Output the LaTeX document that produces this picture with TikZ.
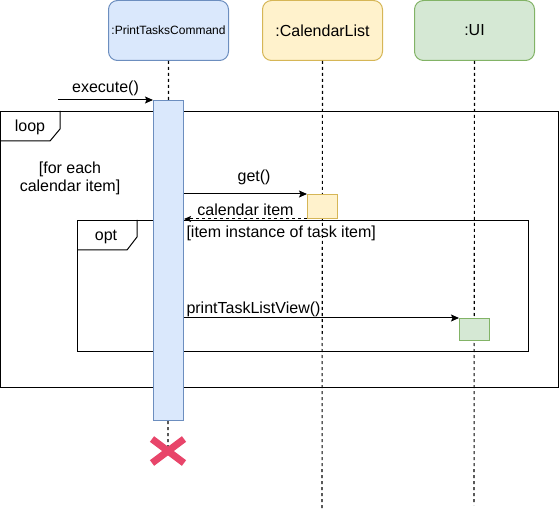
\documentclass[tikz,border=0pt]{standalone}
\usepackage{fontspec}
\setmainfont{Liberation Sans}
\usetikzlibrary{arrows.meta}
\definecolor{bluefill}{HTML}{DAE8FC}
\definecolor{blueline}{HTML}{6C8EBF}
\definecolor{yellowfill}{HTML}{FFF2CC}
\definecolor{yellowline}{HTML}{D6B656}
\definecolor{greenfill}{HTML}{D5E8D4}
\definecolor{greenline}{HTML}{82B366}
\definecolor{destroyred}{HTML}{E8456A}
\begin{document}
\begin{tikzpicture}[x=1pt,y=-1pt,line width=1pt,
    head/.style={draw,rounded corners=9pt,anchor=north west,inner sep=0pt,
      minimum width=120pt,minimum height=60pt,font=\fontsize{16}{19}\selectfont},
    act/.style={draw,anchor=north west,inner sep=0pt,minimum width=30pt},
    life/.style={line width=1.1pt,dash pattern=on 3pt off 3pt},
    frame/.style={draw,anchor=north west,inner sep=0pt},
    txt/.style={font=\fontsize{16}{18}\selectfont,inner sep=0pt},
    msg/.style={-{Stealth[length=8pt,width=7pt,inset=1.5pt]}},
    ret/.style={dash pattern=on 3pt off 3pt,-{Stealth[length=7pt,width=6pt,inset=1.5pt]}},
    destroy/.style={draw=destroyred,line width=7pt}]
  \useasboundingbox (0,0) rectangle (559,510);

  % heads
  \node[head,fill=bluefill,draw=blueline,font=\fontsize{12}{14}\selectfont] (ptc) at (108,0) {:PrintTasksCommand};
  \node[head,fill=yellowfill,draw=yellowline] (cl) at (262,0) {:CalendarList};
  \node[head,fill=greenfill,draw=greenline] (ui) at (414,0) {:UI};

  % lifelines
  \coordinate (end) at (168,451);
  \coordinate (clend) at (322,508);
  \coordinate (uiend) at (474,505);
  \draw[life] (ptc.south) -- (end);
  \draw[life] (cl.south) -- (clend);
  \draw[life] (ui.south) -- (uiend);

  % frames
  \node[frame,minimum width=558pt,minimum height=276pt] (loop) at (0,111) {};
  \draw ([xshift=60pt]loop.north west) -- ++(0,18) -- ++(-10,12) -- ([yshift=-30pt]loop.north west);
  \node[txt] (looplbl) at (30,127) {loop};
  \node[txt,align=center] (loopcond) at (70,178) {[for each\\calendar item]};
  \node[frame,minimum width=451pt,minimum height=131pt] (opt) at (77,220) {};
  \draw ([xshift=60pt]opt.north west) -- ++(0,17) -- ++(-10,13) -- ([yshift=-30pt]opt.north west);
  \node[txt] (optlbl) at (106,237) {opt};
  \node[txt,anchor=west] (optcond) at (186,233) {[item instance of task item]};

  % activations
  \node[act,fill=bluefill,draw=blueline,minimum height=320pt] (a1) at (153,100) {};
  \node[act,fill=yellowfill,draw=yellowline,minimum height=24pt] (a2) at (307,194) {};
  \node[act,fill=greenfill,draw=greenline,minimum height=22pt] (a3) at (459,318) {};

  % messages
  \coordinate (start) at (58,100);
  \draw[msg] (start) -- node[txt,above=4pt] {execute()} (a1.north west);
  \draw[msg] (a1.east |- a2.north) -- node[txt,above=9pt,pos=0.57] {get()} (a2.north west);
  \draw[ret] (a2.south west) -- node[txt,above=3pt] {calendar item} (a1.east |- a2.south);
  \draw[msg] (a1.east |- a3.north) -- node[txt,anchor=south west,pos=0,xshift=2pt,yshift=1pt] {printTaskListView()} (a3.north west);

  % destroy
  \draw[destroy] (end) ++(-16,-12) -- ++(32,24);
  \draw[destroy] (end) ++(-16,12) -- ++(32,-24);
\end{tikzpicture}
\end{document}
